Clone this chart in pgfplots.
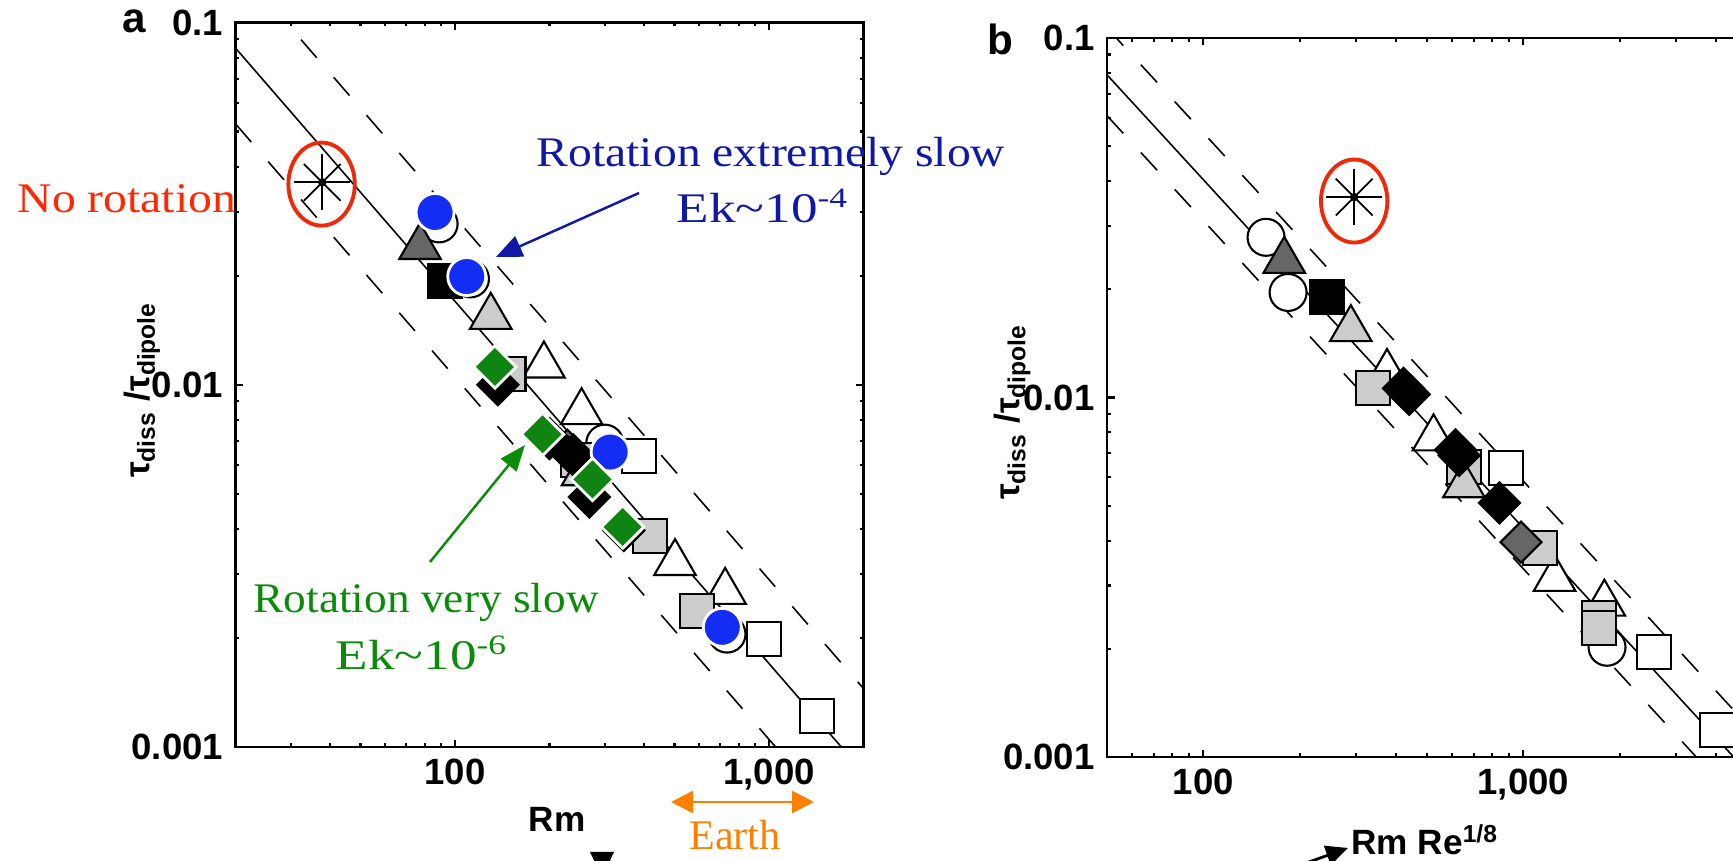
\documentclass[border=0pt]{standalone}
\usepackage{fontspec}
\setmainfont{Liberation Serif}
\newfontfamily\axfont{Liberation Sans}
\usepackage{graphicx}
\usepackage{pgfplots}
\pgfplotsset{compat=1.18}
\usetikzlibrary{arrows.meta}

\definecolor{markblue}{RGB}{20,45,245}
\definecolor{markgreen}{RGB}{16,132,16}
\definecolor{txtblue}{RGB}{15,25,165}
\definecolor{txtgreen}{RGB}{10,140,10}
\definecolor{txtred}{RGB}{255,40,0}
\definecolor{ringred}{RGB}{240,40,10}
\definecolor{earthorange}{RGB}{255,128,0}

\pgfplotsset{
  fitline/.style={black, line width=0.45pt},
  band/.style={black, line width=0.45pt, dash pattern=on 2.4mm off 2.6mm},
  ocirc/.style={only marks, mark=*, mark size=1.85mm, mark options={fill=white, draw=black, line width=0.6pt}},
  otri/.style={only marks, mark=triangle*, mark size=2.4mm, mark options={fill=white, draw=black, line width=0.6pt}},
  ltri/.style={only marks, mark=triangle*, mark size=2.4mm, mark options={fill=black!20, draw=black, line width=0.6pt}},
  dtri/.style={only marks, mark=triangle*, mark size=2.4mm, mark options={fill=black!60, draw=black, line width=0.6pt}},
  osq/.style={only marks, mark=square*, mark size=1.7mm, mark options={fill=white, draw=black, line width=0.6pt}},
  lsq/.style={only marks, mark=square*, mark size=1.7mm, mark options={fill=black!20, draw=black, line width=0.6pt}},
  bsq/.style={only marks, mark=square*, mark size=1.7mm, mark options={fill=black, draw=black, line width=0.6pt}},
  bdia/.style={only marks, mark=square*, mark size=1.45mm, mark options={rotate=45, fill=black, draw=black, line width=0.6pt}},
  ddia/.style={only marks, mark=square*, mark size=1.45mm, mark options={rotate=45, fill=black!60, draw=black, line width=0.6pt}},
  bluec/.style={only marks, mark=*, mark size=1.9mm, mark options={fill=markblue, draw=white, line width=0.8pt}},
  greend/.style={only marks, mark=square*, mark size=1.5mm, mark options={rotate=45, fill=markgreen, draw=white, line width=0.8pt}},
  starplus/.style={only marks, mark=+, mark size=2.8mm, mark options={black, line width=0.5pt}},
  starx/.style={only marks, mark=x, mark size=2.6mm, mark options={black, line width=0.5pt}},
  stardot/.style={only marks, mark=*, mark size=0.35mm, mark options={black}},
  ring/.style={only marks, mark=o, mark size=4.15mm, mark options={draw=ringred, line width=1.1pt, xscale=0.8}},
}

\begin{document}
\begin{tikzpicture}
\useasboundingbox (0,0) rectangle (173.3mm,86.1mm);
\clip (0,0) rectangle (173.3mm,86.1mm);

% panel a
\begin{axis}[
  xmode=log, ymode=log, scale only axis,
  at={(23.55mm,11.4mm)}, anchor=south west,
  width=62.8mm, height=72.45mm,
  xmin=20, xmax=2000, ymin=0.001, ymax=0.1,
  ytick={0.001,0.01,0.1}, yticklabels={0.001,0.01,0.1},
  minor ytick={0.002,0.003,0.004,0.005,0.006,0.007,0.008,0.009,0.02,0.03,0.04,0.05,0.06,0.07,0.08,0.09},
  xtick={100,1000}, xticklabels={100,{1,000}},
  minor xtick={30,40,50,60,70,80,90,200,300,400,500,600,700,800,900},
  tick label style={font=\axfont\bfseries\fontsize{10.4}{12}\selectfont},
  label style={font=\axfont\bfseries\fontsize{10}{12}\selectfont},
  axis line style={line width=0.75pt},
  tick style={black, line width=0.6pt},
  major tick length=0.75mm, minor tick length=0.4mm,
  xlabel={Rm},
  xlabel style={at={(axis description cs:0.512,-0.10)}, anchor=center},
  ylabel={τ\textsubscript{diss} /τ\textsubscript{dipole}},
  ylabel style={at={(axis description cs:-0.149,0.493)}, anchor=center},
]
\addplot[fitline] coordinates {(20,0.085) (2000,0.00085)};
\addplot[band] coordinates {(20,0.145) (2000,0.00145)};
\addplot[band] coordinates {(20,0.0525) (2000,0.000525)};

\addplot[otri] coordinates {(192,0.0113) (253,0.0084) (502,0.00322) (725,0.00268)};
\addplot[osq] coordinates {(386,0.00636) (963,0.00199) (1418,0.00122)};
\addplot[ocirc] coordinates {(89,0.0278) (112,0.0196) (300,0.0069) (735,0.00205)};
\addplot[lsq] coordinates {(148,0.0107) (247,0.0062) (419,0.00382) (590,0.00237)};
\addplot[ltri] coordinates {(130,0.0154) (255,0.0057)};
\addplot[dtri] coordinates {(77.4,0.024)};
\addplot[bsq] coordinates {(93,0.0193)};
\addplot[ddia] coordinates {(228,0.0066) (345,0.00396)};
\addplot[bdia] coordinates {(137,0.0100) (200,0.0071) (238,0.0064) (268,0.0049)};
\addplot[bluec] coordinates {(86.4,0.0299) (109,0.0199) (312,0.00652) (710,0.00214)};
\addplot[greend] coordinates {(134,0.0112) (190,0.0073) (274,0.00548) (342,0.00405)};

\addplot[starplus] coordinates {(37.8,0.0362)};
\addplot[starx] coordinates {(37.8,0.0362)};
\addplot[stardot] coordinates {(37.8,0.0362)};
\addplot[ring] coordinates {(37.6,0.0358)};
\end{axis}

% panel b
\begin{axis}[
  xmode=log, ymode=log, scale only axis,
  at={(110.7mm,10.4mm)}, anchor=south west,
  width=64mm, height=71.9mm,
  xmin=50, xmax=5000, ymin=0.001, ymax=0.1,
  ytick={0.001,0.01,0.1}, yticklabels={0.001,0.01,0.1},
  minor ytick={0.002,0.003,0.004,0.005,0.006,0.007,0.008,0.009,0.02,0.03,0.04,0.05,0.06,0.07,0.08,0.09},
  xtick={100,1000}, xticklabels={100,{1,000}},
  minor xtick={60,70,80,90,200,300,400,500,600,700,800,900,2000,3000,4000},
  tick label style={font=\axfont\bfseries\fontsize{10.4}{12}\selectfont},
  label style={font=\axfont\bfseries\fontsize{10}{12}\selectfont},
  axis line style={line width=0.75pt},
  tick style={black, line width=0.6pt},
  major tick length=0.75mm, minor tick length=0.4mm,
  xlabel={Rm Re\textsuperscript{1/8}},
  xlabel style={at={(axis description cs:0.497,-0.115)}, anchor=center},
  ylabel={τ\textsubscript{diss} /τ\textsubscript{dipole}},
  ylabel style={at={(axis description cs:-0.148,0.48)}, anchor=center},
]
\addplot[fitline] coordinates {(50,0.079) (5000,0.000911)};
\addplot[band] coordinates {(50,0.1067) (5000,0.00123)};
\addplot[band] coordinates {(50,0.0608) (5000,0.000702)};

\addplot[otri] coordinates {(375,0.0117) (524,0.0077) (1252,0.00313) (1791,0.00267)};
\addplot[osq] coordinates {(885,0.00637) (2555,0.00196) (4034,0.00119)};
\addplot[ocirc] coordinates {(157,0.0279) (184,0.0196) (1826,0.00202)};
\addplot[lsq] coordinates {(339,0.0106) (652,0.00641) (1124,0.00381) (1722,0.00244) (1722,0.00228)};
\addplot[ltri] coordinates {(289,0.0155) (652,0.0057)};
\addplot[dtri] coordinates {(179,0.024)};
\addplot[bsq] coordinates {(243,0.019)};
\addplot[ddia] coordinates {(983,0.00396)};
\addplot[bdia] coordinates {(422,0.0106) (440,0.0102) (614,0.00715) (630,0.0069) (842,0.00509)};

\addplot[starplus] coordinates {(296,0.0361)};
\addplot[starx] coordinates {(296,0.0361)};
\addplot[stardot] coordinates {(296,0.0361)};
\addplot[ring] coordinates {(296,0.0352)};
\end{axis}

% panel letters
\node[font=\axfont\bfseries\fontsize{12}{14}\selectfont, anchor=base, inner sep=0] at (13.45mm,82.8mm) {a};
\node[font=\axfont\bfseries\fontsize{12}{14}\selectfont, anchor=base, inner sep=0] at (100.0mm,80.6mm) {b};

% annotations
\node[anchor=base west, inner sep=0, text=txtred, font=\fontsize{12}{14}\selectfont] at (1.7mm,64.8mm) {\scalebox{1.13}[1]{No rotation}};
\node[anchor=base west, inner sep=0, text=txtblue, font=\fontsize{12}{14}\selectfont] at (53.6mm,69.4mm) {\scalebox{1.13}[1]{Rotation extremely slow}};
\node[anchor=base west, inner sep=0, text=txtblue, font=\fontsize{12}{14}\selectfont] at (67.6mm,63.8mm) {\scalebox{1.26}[1]{Ek\textasciitilde10\textsuperscript{-4}}};
\draw[txtblue, line width=0.7pt, -{Triangle[length=2.6mm, width=2.2mm]}] (63.9mm,66.8mm) -- (49.6mm,60.4mm);

\node[anchor=base west, inner sep=0, text=txtgreen, font=\fontsize{12}{14}\selectfont] at (25.3mm,24.8mm) {\scalebox{1.075}[1]{Rotation very slow}};
\node[anchor=base west, inner sep=0, text=txtgreen, font=\fontsize{12}{14}\selectfont] at (33.5mm,19.1mm) {\scalebox{1.26}[1]{Ek\textasciitilde10\textsuperscript{-6}}};
\draw[txtgreen, line width=0.7pt, -{Triangle[length=2.6mm, width=2mm]}] (43.0mm,29.9mm) -- (52.5mm,41.6mm);

\draw[earthorange, line width=0.8pt, {Triangle[length=2.2mm, width=2.2mm]}-{Triangle[length=2.2mm, width=2.2mm]}] (67.1mm,5.9mm) -- (81.4mm,5.9mm);
\node[anchor=base, inner sep=0, text=earthorange, font=\fontsize{12}{14}\selectfont] at (73.5mm,1.1mm) {Earth};

\fill[black] (59.0mm,0.9mm) -- (61.4mm,0.9mm) -- (60.2mm,-1.6mm) -- cycle;
\draw[black, line width=0.8pt, -{Triangle[length=2.2mm, width=2mm]}] (129.5mm,-0.6mm) -- (134.8mm,1.3mm);
\end{tikzpicture}
\end{document}
